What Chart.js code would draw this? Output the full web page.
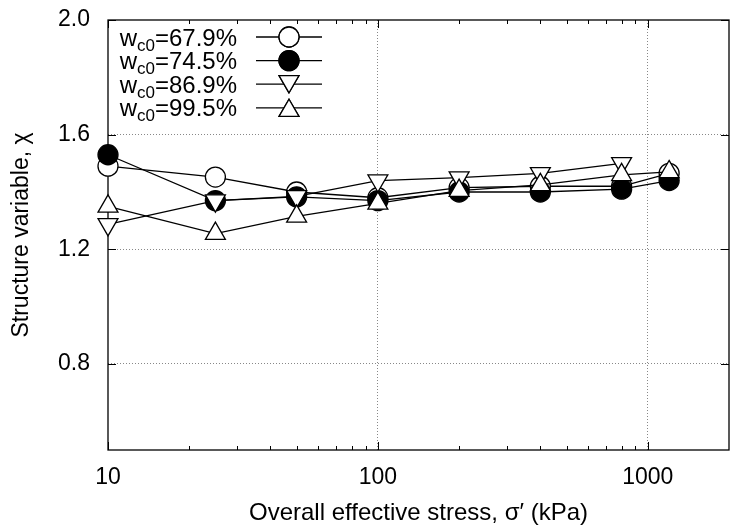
<!DOCTYPE html>
<html><head><meta charset="utf-8">
<script src="https://cdn.jsdelivr.net/npm/chart.js@4"></script>
<style>html,body{margin:0;padding:0;background:#fff}#wrap{width:734px;height:528px}</style>
</head><body><div id="wrap"><canvas id="c" width="734" height="528"></canvas></div>
<script>
// ---- data ----
const stress = [10, 25, 50, 100, 200, 400, 800, 1200];
const stress869 = [10, 25, 50, 100, 200, 400, 800];
const chi679 = [1.49, 1.452, 1.40, 1.38, 1.415, 1.42, 1.42, 1.465];
const chi745 = [1.53, 1.37, 1.383, 1.37, 1.40, 1.40, 1.41, 1.44];
const chi869 = [1.287, 1.37, 1.385, 1.44, 1.45, 1.465, 1.50];
const chi995 = [1.35, 1.255, 1.315, 1.36, 1.405, 1.425, 1.46, 1.47];
const seriesLabels = ['=67.9%', '=74.5%', '=86.9%', '=99.5%'];
const xTickValues = [10, 100, 1000];
const xMinorValues = [20,30,40,50,60,70,80,90,200,300,400,500,600,700,800,900];
const yTickValues = [0.8, 1.2, 1.6, 2.0];

const FONT = 'Liberation Sans, Arial, Helvetica, sans-serif';
const toPts = (xs, ys) => xs.map((x, i) => ({x: x, y: ys[i]}));

const styles = [
  {pointStyle: 'circle', radius: 10, rotation: 0, fill: '#ffffff'},
  {pointStyle: 'circle', radius: 10, rotation: 0, fill: '#000000'},
  {pointStyle: 'triangle', radius: 11.5, rotation: 180, fill: '#ffffff'},
  {pointStyle: 'triangle', radius: 11.5, rotation: 0, fill: '#ffffff'}
];
const seriesData = [toPts(stress, chi679), toPts(stress, chi745), toPts(stress869, chi869), toPts(stress, chi995)];

const datasets = seriesData.map((d, i) => ({
  label: seriesLabels[i],
  data: d,
  order: 4 - i,
  clip: false,
  borderColor: '#000',
  borderWidth: 1.3,
  backgroundColor: styles[i].fill,
  pointStyle: styles[i].pointStyle,
  pointRadius: styles[i].radius,
  pointHoverRadius: styles[i].radius,
  pointRotation: styles[i].rotation,
  pointBorderColor: '#000',
  pointBackgroundColor: styles[i].fill,
  pointBorderWidth: 1.3,
  tension: 0,
  fill: false
}));

const framePlugin = {
  id: 'frame',
  beforeDatasetsDraw(chart) {
    const ctx = chart.ctx, a = chart.chartArea;
    const xs = chart.scales.x, ys = chart.scales.y;
    ctx.save();
    ctx.strokeStyle = '#000';
    ctx.lineWidth = 1.3;
    ctx.strokeRect(a.left, a.top, a.right - a.left, a.bottom - a.top);
    ctx.lineWidth = 1;
    ctx.beginPath();
    xTickValues.forEach(v => {
      const p = Math.round(xs.getPixelForValue(v)) + 0.5;
      ctx.moveTo(p, a.bottom); ctx.lineTo(p, a.bottom - 8);
      ctx.moveTo(p, a.top); ctx.lineTo(p, a.top + 8);
    });
    xMinorValues.forEach(v => {
      const p = Math.round(xs.getPixelForValue(v)) + 0.5;
      ctx.moveTo(p, a.bottom); ctx.lineTo(p, a.bottom - 4);
      ctx.moveTo(p, a.top); ctx.lineTo(p, a.top + 4);
    });
    yTickValues.forEach(v => {
      const p = Math.round(ys.getPixelForValue(v)) + 0.5;
      ctx.moveTo(a.left, p); ctx.lineTo(a.left + 8, p);
      ctx.moveTo(a.right, p); ctx.lineTo(a.right - 8, p);
    });
    ctx.stroke();
    ctx.restore();
  }
};

const legendPlugin = {
  id: 'texLegend',
  afterDatasetsDraw(chart) {
    const ctx = chart.ctx;
    const big = 24, small = 17;
    const rightX = 237, lineX0 = 256, lineX1 = 322, markX = 289;
    ctx.save();
    chart.data.datasets.forEach((ds, i) => {
      const yc = 37 + i * 23.6;
      const base = yc + big * 0.36;
      ctx.font = big + 'px ' + FONT;
      const wW = ctx.measureText('w').width;
      const rest = ds.label;
      const rW = ctx.measureText(rest).width;
      ctx.font = small + 'px ' + FONT;
      const sW = ctx.measureText('c0').width;
      let x = rightX - (wW + sW + rW);
      ctx.fillStyle = '#000';
      ctx.textBaseline = 'alphabetic';
      ctx.textAlign = 'left';
      ctx.font = big + 'px ' + FONT;
      ctx.fillText('w', x, base);
      x += wW;
      ctx.font = small + 'px ' + FONT;
      ctx.fillText('c0', x, base + 5);
      x += sW;
      ctx.font = big + 'px ' + FONT;
      ctx.fillText(rest, x, base);
      ctx.strokeStyle = '#000';
      ctx.lineWidth = 1.3;
      ctx.beginPath();
      ctx.moveTo(lineX0, yc); ctx.lineTo(lineX1, yc);
      ctx.stroke();
      ctx.fillStyle = ds.pointBackgroundColor;
      Chart.helpers.drawPoint(ctx, {
        pointStyle: ds.pointStyle, rotation: ds.pointRotation,
        radius: ds.pointRadius, borderWidth: 1.3
      }, markX, yc + (ds.pointStyle === 'triangle' ? (ds.pointRotation ? -2.9 : 2.9) : 0));
      ctx.fill();
      ctx.stroke();
    });
    ctx.restore();
  }
};

new Chart(document.getElementById('c'), {
  type: 'line',
  data: {datasets: datasets},
  plugins: [framePlugin, legendPlugin],
  options: {
    responsive: false,
    devicePixelRatio: 1,
    animation: false,
    events: [],
    layout: {autoPadding: false, padding: {top: 20, right: 5, left: 0, bottom: 0}},
    plugins: {legend: {display: false}, tooltip: {enabled: false}},
    scales: {
      x: {
        type: 'logarithmic',
        min: 10, max: 2000,
        afterBuildTicks: s => { s.ticks = xTickValues.map(v => ({value: v})); },
        afterFit: s => { s.height = 78; s.paddingLeft = 0; s.paddingRight = 0; },
        ticks: {
          color: '#000', font: {family: FONT, size: 23}, padding: 14,
          maxRotation: 0, autoSkip: false,
          callback: v => String(v)
        },
        grid: {
          drawTicks: false,
          color: c => (c.tick && c.tick.value === 10) ? 'rgba(0,0,0,0)' : '#888',
          lineWidth: 1
        },
        border: {display: false, dash: [1, 2]},
        title: {
          display: true, text: 'Overall effective stress, σ′ (kPa)',
          color: '#000', font: {family: FONT, size: 24}, padding: {top: 2, bottom: 0}
        }
      },
      y: {
        type: 'linear',
        min: 0.5, max: 2.0,
        afterBuildTicks: s => { s.ticks = yTickValues.map(v => ({value: v})); },
        afterFit: s => { s.width = 108; s.paddingTop = 0; s.paddingBottom = 0; },
        ticks: {
          color: '#000', font: {family: FONT, size: 23}, padding: 18,
          callback: v => Number(v).toFixed(1)
        },
        grid: {
          drawTicks: false,
          color: c => (c.tick && c.tick.value === 2.0) ? 'rgba(0,0,0,0)' : '#888',
          lineWidth: 1
        },
        border: {display: false, dash: [1, 2]},
        title: {
          display: true, text: 'Structure variable, χ',
          color: '#000', font: {family: FONT, size: 23}, padding: {top: 8, bottom: 0}
        }
      }
    }
  }
});
</script>
</body></html>
